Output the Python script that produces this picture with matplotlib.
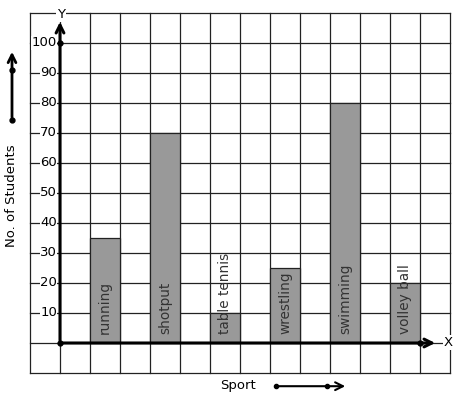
import matplotlib
matplotlib.use("Agg")
import matplotlib.pyplot as plt

sports = ["running", "shotput", "table tennis", "wrestling", "swimming", "volley ball"]
students = [35, 70, 10, 25, 80, 20]
bar_x = [1, 3, 5, 7, 9, 11]
yticks = [10, 20, 30, 40, 50, 60, 70, 80, 90, 100]

fig = plt.figure(figsize=(4.57, 3.99), dpi=100)
ax = fig.add_axes([30/457, 26/399, 420/457, 360/399])
ax.set_xlim(-1, 13)
ax.set_ylim(-10, 110)
ax.axis("off")

# grid
for gx in range(-1, 14):
    ax.plot([gx, gx], [-10, 110], color="#222222", lw=0.9, zorder=1, clip_on=False)
for gy in range(-10, 111, 10):
    ax.plot([-1, 13], [gy, gy], color="#222222", lw=0.9, zorder=1, clip_on=False)

# bars
ax.bar(bar_x, students, width=1, align="edge", color="#999999",
       edgecolor="#222222", lw=0.9, zorder=2)
for x, name in zip(bar_x, sports):
    ax.text(x + 0.5, 3, name, rotation=90, ha="center", va="bottom",
            fontsize=9.8, color="#333333", zorder=3)

# axes with arrows
ax.annotate("", xy=(0, 108), xytext=(0, 0),
            arrowprops=dict(arrowstyle="->", lw=2.2, color="black", mutation_scale=14),
            zorder=4)
ax.annotate("", xy=(12.6, 0), xytext=(0, 0),
            arrowprops=dict(arrowstyle="->", lw=2.2, color="black", mutation_scale=14),
            zorder=4)
ax.plot([0, 0, 12], [0, 100, 0], "o", color="black", ms=3.5, zorder=5)
ax.text(0.03, 109.5, "Y", ha="center", va="center", fontsize=9.5, zorder=5,
        bbox=dict(fc="white", ec="none", pad=0.5))
ax.text(12.95, 0.2, "X", ha="center", va="center", fontsize=9.5, zorder=5,
        bbox=dict(fc="white", ec="none", pad=0.5))

# y tick labels
for t in yticks:
    ax.text(-0.1, t, str(t), ha="right", va="center", fontsize=9.5, zorder=5,
            bbox=dict(fc="white", ec="none", pad=0.3))

# y label and arrow
ax.text(-1.62, 49, "No. of Students", rotation=90, ha="center", va="center",
        fontsize=9.5, clip_on=False)
ax.annotate("", xy=(-1.6, 98), xytext=(-1.6, 74.3),
            arrowprops=dict(arrowstyle="->", lw=2, color="black", mutation_scale=14),
            annotation_clip=False)
ax.plot([-1.6, -1.6], [74.3, 91], "o", color="black", ms=3.5, clip_on=False)

# x label and arrow
ax.text(5.93, -14.2, "Sport", ha="center", va="center", fontsize=9.5, clip_on=False)
ax.annotate("", xy=(9.6, -14.4), xytext=(7.2, -14.4),
            arrowprops=dict(arrowstyle="->", lw=1.5, color="black", mutation_scale=14),
            annotation_clip=False)
ax.plot([7.2, 8.9], [-14.4, -14.4], "o", color="black", ms=3, clip_on=False)

fig.savefig("out.png", dpi=100, facecolor="white")
